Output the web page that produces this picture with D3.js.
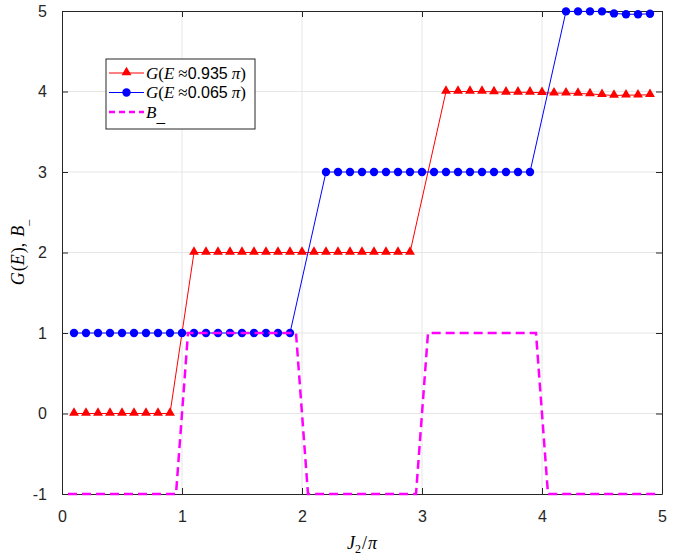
<!DOCTYPE html>
<html>
<head>
<meta charset="utf-8">
<script src="https://cdn.jsdelivr.net/npm/d3@7"></script>
<style>
  body { margin: 0; background: #fff; }
  svg { display: block; }
  .tick text { font-family: "Liberation Sans", Arial, sans-serif; font-size: 16px; fill: #262626; }
  .math { font-family: "Liberation Serif", "Times New Roman", serif; font-style: italic; }
  .rm { font-family: "Liberation Serif", "Times New Roman", serif; font-style: normal; }
</style>
</head>
<body>
<script>
// data
var redX = [0.1,0.2,0.3,0.4,0.5,0.6,0.7,0.8,0.9,
  1.1,1.2,1.3,1.4,1.5,1.6,1.7,1.8,1.9,2.0,2.1,2.2,2.3,2.4,2.5,2.6,2.7,2.8,2.9,
  3.2,3.3,3.4,3.5,3.6,3.7,3.8,3.9,4.0,4.1,4.2,4.3,4.4,4.5,4.6,4.7,4.8,4.9];
var redY = [0,0,0,0,0,0,0,0,0,
  2,2,2,2,2,2,2,2,2,2,2,2,2,2,2,2,2,2,2,
  4.0,4.0,4.0,4.0,3.995,3.99,3.99,3.99,3.985,3.98,3.98,3.975,3.97,3.96,3.95,3.955,3.955,3.96];

var blueX = [0.1,0.2,0.3,0.4,0.5,0.6,0.7,0.8,0.9,1.0,1.1,1.2,1.3,1.4,1.5,1.6,1.7,1.8,1.9,
  2.2,2.3,2.4,2.5,2.6,2.7,2.8,2.9,3.0,3.1,3.2,3.3,3.4,3.5,3.6,3.7,3.8,3.9,
  4.2,4.3,4.4,4.5,4.6,4.7,4.8,4.9];
var blueY = [1,1,1,1,1,1,1,1,1,1,1,1,1,1,1,1,1,1,1,
  3,3,3,3,3,3,3,3,3,3,3,3,3,3,3,3,3,3,
  4.995,4.995,4.995,4.995,4.97,4.96,4.96,4.965];

var bX = [0.05,0.95,1.05,1.95,2.05,2.95,3.05,3.95,4.05,4.95];
var bY = [-1,-1,1,1,-1,-1,1,1,-1,-1];

var xTicks = [0,1,2,3,4,5];
var xTickLabels = ["0","1","2","3","4","5"];
var yTicks = [-1,0,1,2,3,4,5];
var yTickLabels = ["-1","0","1","2","3","4","5"];

var W = 691, H = 558;
var L = 62, R = 662, T = 11, B = 494;

var svg = d3.select("body").append("svg").attr("width", W).attr("height", H);

var x = d3.scaleLinear().domain([0,5]).range([L,R]);
var y = d3.scaleLinear().domain([-1,5]).range([B,T]);

// grid
svg.append("g").selectAll("line").data(xTicks.slice(1,-1)).enter().append("line")
  .attr("x1", d => x(d)).attr("x2", d => x(d)).attr("y1", T).attr("y2", B)
  .attr("stroke", "#e6e6e6").attr("stroke-width", 1);
svg.append("g").selectAll("line").data(yTicks.slice(1,-1)).enter().append("line")
  .attr("y1", d => y(d)).attr("y2", d => y(d)).attr("x1", L).attr("x2", R)
  .attr("stroke", "#e6e6e6").attr("stroke-width", 1);

// axes
var xAxis = svg.append("g").attr("transform", "translate(0," + B + ")")
  .call(d3.axisBottom(x).tickValues(xTicks).tickSizeInner(-6).tickSizeOuter(0).tickPadding(14)
    .tickFormat((d, i) => xTickLabels[i]));
var xTop = svg.append("g").attr("transform", "translate(0," + T + ")")
  .call(d3.axisTop(x).tickValues(xTicks).tickSizeInner(-6).tickSizeOuter(0).tickFormat(""));
var yAxis = svg.append("g").attr("transform", "translate(" + L + ",0)")
  .call(d3.axisLeft(y).tickValues(yTicks).tickSizeInner(-6).tickSizeOuter(0).tickPadding(15)
    .tickFormat((d, i) => yTickLabels[i]));
var yRight = svg.append("g").attr("transform", "translate(" + R + ",0)")
  .call(d3.axisRight(y).tickValues(yTicks).tickSizeInner(-6).tickSizeOuter(0).tickFormat(""));
[xAxis, xTop, yAxis, yRight].forEach(function(g) {
  g.select(".domain").attr("stroke", "#262626").attr("stroke-width", 1);
  g.selectAll(".tick line").attr("stroke", "#262626");
});
xAxis.selectAll(".tick text").attr("dy", "0.85em");

// lines
var line = d3.line().x(d => x(d[0])).y(d => y(d[1]));
var redPts = redX.map((v, i) => [v, redY[i]]);
var bluePts = blueX.map((v, i) => [v, blueY[i]]);
var bPts = bX.map((v, i) => [v, bY[i]]);

svg.append("path").datum(redPts).attr("d", line)
  .attr("fill", "none").attr("stroke", "#ff0000").attr("stroke-width", 1);
svg.append("g").selectAll("path").data(redPts).enter().append("path")
  .attr("d", d3.symbol().type(d3.symbolTriangle).size(42))
  .attr("transform", d => "translate(" + x(d[0]) + "," + (y(d[1]) - 0.5) + ")")
  .attr("fill", "#ff0000");

svg.append("path").datum(bluePts).attr("d", line)
  .attr("fill", "none").attr("stroke", "#0000ff").attr("stroke-width", 1);
svg.append("g").selectAll("circle").data(bluePts).enter().append("circle")
  .attr("cx", d => x(d[0])).attr("cy", d => y(d[1])).attr("r", 4.2)
  .attr("fill", "#0000ff");

svg.append("path").datum(bPts).attr("d", line)
  .attr("fill", "none").attr("stroke", "#ff00ff").attr("stroke-width", 2.5)
  .attr("stroke-dasharray", "9,5");

// axis labels
var xl = svg.append("text").attr("x", (L + R) / 2).attr("y", 549)
  .attr("text-anchor", "middle").attr("font-size", 18).attr("class", "math");
xl.append("tspan").text("J");
xl.append("tspan").attr("class", "rm").attr("font-size", 12).attr("dy", 4).text("2");
xl.append("tspan").attr("class", "rm").attr("dy", -4).attr("dx", 1).text("/");
xl.append("tspan").attr("dx", 1).text("π");

var yl = svg.append("text").attr("transform", "translate(24," + ((T + B) / 2) + ") rotate(-90)")
  .attr("text-anchor", "middle").attr("font-size", 18).attr("class", "math");
yl.append("tspan").text("G");
yl.append("tspan").attr("class", "rm").attr("dx", 1).text("(");
yl.append("tspan").text("E");
yl.append("tspan").attr("class", "rm").attr("dx", 1).text(")");
yl.append("tspan").attr("class", "rm").text(",");
yl.append("tspan").attr("dx", 6).text("B");
yl.append("tspan").attr("class", "rm").attr("font-size", 12).attr("dy", 4).text("_");

// legend
var lg = svg.append("g");
lg.append("rect").attr("x", 106).attr("y", 59).attr("width", 149).attr("height", 70)
  .attr("fill", "#fff").attr("stroke", "#262626").attr("stroke-width", 1);
var legendRows = [
  {label: ["G(E", "0.935", "π)"], color: "#ff0000", mark: "tri"},
  {label: ["G(E", "0.065", "π)"], color: "#0000ff", mark: "dot"},
  {label: ["B_"], color: "#ff00ff", mark: "dash"}
];
legendRows.forEach(function(r, i) {
  var cy = 73 + i * 19.5;
  var ln = lg.append("line").attr("x1", 109).attr("x2", 144).attr("y1", cy).attr("y2", cy)
    .attr("stroke", r.color);
  if (r.mark == "dash") {
    ln.attr("stroke-width", 2.5).attr("stroke-dasharray", "6,4");
  } else {
    ln.attr("stroke-width", 1);
  }
  if (r.mark == "tri") {
    lg.append("path").attr("d", d3.symbol().type(d3.symbolTriangle).size(42))
      .attr("transform", "translate(126.5," + (cy - 0.5) + ")").attr("fill", r.color);
  }
  if (r.mark == "dot") {
    lg.append("circle").attr("cx", 126.5).attr("cy", cy).attr("r", 4.2).attr("fill", r.color);
  }
  var t = lg.append("text").attr("x", 146).attr("y", cy + 5.5).attr("font-size", 17);
  if (r.label.length == 3) {
    t.append("tspan").attr("class", "math").text("G");
    t.append("tspan").attr("class", "rm").text("(");
    t.append("tspan").attr("class", "math").text("E");
    t.append("tspan").attr("class", "rm").attr("dx", 4).text("≈");
    t.append("tspan").attr("font-family", "Liberation Sans, Arial, sans-serif").attr("font-size", 16).text(r.label[1]);
    t.append("tspan").attr("class", "math").attr("dx", 4).text("π");
    t.append("tspan").attr("class", "rm").text(")");
  } else {
    t.append("tspan").attr("class", "math").text("B");
    t.append("tspan").attr("class", "rm").attr("dy", 4).text("_");
  }
});
</script>
</body>
</html>
